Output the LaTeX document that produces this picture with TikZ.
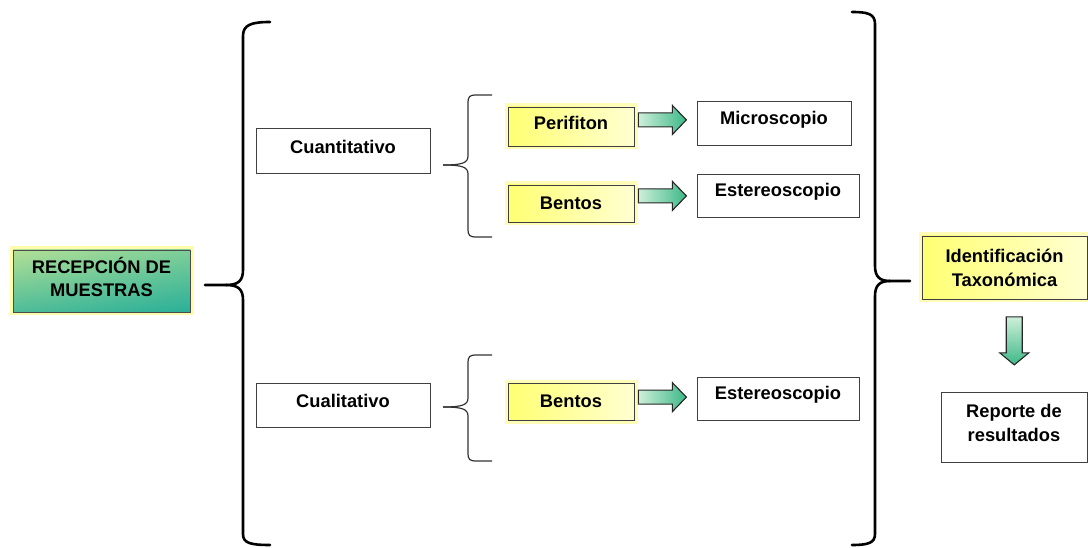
\documentclass[tikz,border=0pt]{standalone}
\usepackage{fontspec}
\setmainfont{Liberation Sans}
\usetikzlibrary{calc,shadings}
\definecolor{boxline}{HTML}{404040}
\definecolor{arrowdark}{HTML}{3DB888}
\definecolor{arrowlight}{HTML}{CDEFD9}
\definecolor{gUL}{RGB}{180,224,150}
\definecolor{gUR}{RGB}{125,206,152}
\definecolor{gLL}{RGB}{78,188,152}
\definecolor{gLR}{RGB}{42,176,152}
\begin{document}
\begin{tikzpicture}[x=1pt,y=-1pt,
  every node/.style={font=\fontsize{18.3}{22.5}\selectfont\bfseries, align=center, inner sep=0pt},
  raised/.style={text depth=#1},
  widelines/.style={font=\fontsize{18.3}{24}\selectfont\bfseries},
  plainbox/.style={draw=boxline, line width=0.8pt, fill=white, rectangle},
  glowbox/.style={draw=boxline, line width=0.8pt, rectangle,
    preaction={draw=yellow!80, line width=7pt, opacity=0.35},
    left color=yellow!55, right color=yellow!18},
  greenbox/.style={draw=black!70, line width=0.8pt, rectangle,
    preaction={draw=yellow!80, line width=7pt, opacity=0.4},
    upper left=gUL, upper right=gUR, lower left=gLL, lower right=gLR},
  bigbrace/.style={line width=2.6pt, line cap=round, black},
  smallbrace/.style={line width=1.2pt, black!80},
  blockarrow/.style={draw=black!85, line width=1.1pt, line join=miter,
    left color=arrowlight, right color=arrowdark},
  blockarrowdown/.style={draw=black!85, line width=1.1pt, line join=miter,
    top color=arrowlight, bottom color=arrowdark}
]
\useasboundingbox (0,0) rectangle (1088,548);

% main boxes
\node[greenbox, minimum width=177pt, minimum height=62pt, raised=8pt] (rec) at (101.5,281) {RECEPCIÓN DE\\MUESTRAS};
\node[plainbox, minimum width=174pt, minimum height=45pt, raised=8pt] (cuan) at (343,150.5) {Cuantitativo};
\node[plainbox, minimum width=174pt, minimum height=44pt, raised=8pt] (cual) at (343,405) {Cualitativo};

\node[glowbox, minimum width=126pt, minimum height=39pt, raised=7pt] (peri) at (571,126.5) {Perifiton};
\node[glowbox, minimum width=126pt, minimum height=37pt] (bent1) at (571,203.5) {Bentos};
\node[glowbox, minimum width=126pt, minimum height=37pt] (bent2) at (571,401.5) {Bentos};

\node[plainbox, minimum width=154pt, minimum height=44pt] (micro) at (774,123) {};
\node at ($(micro.center)+(0,-3)$) (microtxt) {Microscopio};
\node[plainbox, minimum width=162pt, minimum height=43pt] (est1) at (778,195.5) {};
\node at ($(est1.center)+(0,-4)$) (est1txt) {Estereoscopio};
\node[plainbox, minimum width=162pt, minimum height=43pt] (est2) at (778,398.5) {};
\node at ($(est2.center)+(0,-4)$) (est2txt) {Estereoscopio};

\node[glowbox, widelines, minimum width=165pt, minimum height=63pt] (ident) at (1004.5,267.5) {Identificación\\Taxonómica};
\node[plainbox, widelines, minimum width=146pt, minimum height=70pt, raised=9pt] (rep) at (1014,427) {Reporte de\\resultados};

% large left brace
\coordinate (lbtip) at (205,285);
\draw[bigbrace] (270,22) .. controls (251,22) and (243,25) .. (243,36)
  -- (243,270) .. controls (243,281) and (238,285) .. (226,285) -- (lbtip);
\draw[bigbrace] (226,285) .. controls (238,285) and (243,289) .. (243,300)
  -- (243,534) .. controls (243,543) and (250,545) .. (270,545);

% large right brace
\coordinate (rbtip) at (910,281);
\draw[bigbrace] (852,12) .. controls (868,12) and (875,14) .. (875,24)
  -- (875,266) .. controls (875,277) and (880,281) .. (890,281) -- (rbtip);
\draw[bigbrace] (890,281) .. controls (880,281) and (875,285) .. (875,296)
  -- (875,534) .. controls (875,543) and (868,545) .. (852,545);

% small braces
\coordinate (sb1tip) at (443,165);
\draw[smallbrace] (492,95) -- (475,95) .. controls (470,95) and (468,97) .. (468,102)
  -- (468,156) .. controls (468,163) and (462,165) .. (sb1tip);
\draw[smallbrace] (sb1tip) .. controls (462,165) and (468,167) .. (468,174)
  -- (468,230) .. controls (468,235) and (470,237) .. (475,237) -- (492,237);

\coordinate (sb2tip) at (443,407);
\draw[smallbrace] (492,355) -- (475,355) .. controls (470,355) and (468,357) .. (468,362)
  -- (468,398) .. controls (468,405) and (462,407) .. (sb2tip);
\draw[smallbrace] (sb2tip) .. controls (462,407) and (468,409) .. (468,416)
  -- (468,454) .. controls (468,459) and (470,461) .. (475,461) -- (492,461);

% block arrows between sample and instrument boxes
\coordinate (a1) at ($($(peri.east)!0.45!(micro.west)$)+(0,-5)$);
\coordinate (a2) at ($($(bent1.east)!0.45!(est1.west)$)+(0,-4)$);
\coordinate (a3) at ($($(bent2.east)!0.45!(est2.west)$)+(0,-3)$);
\foreach \c in {a1,a2,a3}{
  \draw[blockarrow]
    ([shift={(-24,-7)}]\c) -- ([shift={(10,-7)}]\c) -- ([shift={(10,-14.5)}]\c)
    -- ([shift={(24,0)}]\c) -- ([shift={(10,14.5)}]\c) -- ([shift={(10,7)}]\c)
    -- ([shift={(-24,7)}]\c) -- cycle;
}

% downward block arrow
\coordinate (a4) at ($($(ident.south)!0.45!(rep.north)$)+(5.5,0)$);
\draw[blockarrowdown]
  ([shift={(-8,-24)}]a4) -- ([shift={(8,-24)}]a4) -- ([shift={(8,12)}]a4)
  -- ([shift={(14.5,12)}]a4) -- ([shift={(0,24)}]a4) -- ([shift={(-14.5,12)}]a4)
  -- ([shift={(-8,12)}]a4) -- cycle;
\end{tikzpicture}
\end{document}
